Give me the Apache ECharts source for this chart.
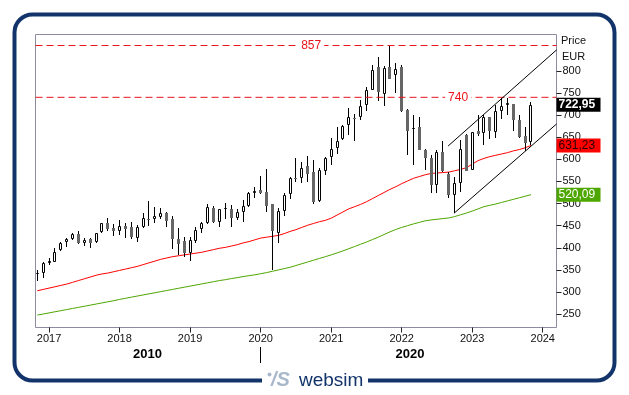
<!DOCTYPE html>
<html><head><meta charset="utf-8">
<script src="https://cdn.jsdelivr.net/npm/echarts@6/dist/echarts.min.js"></script>
<style>html,body{margin:0;padding:0;background:#fff}#c{width:629px;height:395px}</style>
</head><body><div id="c"></div>
<script>
const months = ['2016-11','2016-12',
'2017-01','2017-02','2017-03','2017-04','2017-05','2017-06','2017-07','2017-08','2017-09','2017-10','2017-11','2017-12',
'2018-01','2018-02','2018-03','2018-04','2018-05','2018-06','2018-07','2018-08','2018-09','2018-10','2018-11','2018-12',
'2019-01','2019-02','2019-03','2019-04','2019-05','2019-06','2019-07','2019-08','2019-09','2019-10','2019-11','2019-12',
'2020-01','2020-02','2020-03','2020-04','2020-05','2020-06','2020-07','2020-08','2020-09','2020-10','2020-11','2020-12',
'2021-01','2021-02','2021-03','2021-04','2021-05','2021-06','2021-07','2021-08','2021-09','2021-10','2021-11','2021-12',
'2022-01','2022-02','2022-03','2022-04','2022-05','2022-06','2022-07','2022-08','2022-09','2022-10','2022-11','2022-12',
'2023-01','2023-02','2023-03','2023-04','2023-05','2023-06','2023-07','2023-08','2023-09','2023-10','2023-11'];

const open = [343,342,365,369,394,414,419,431,412,419,413,435,456,445,437,449,448,423,446,466,464,470,479,465,421,416,388,416,442,455,491,458,487,488,468,482,494,523,530,527,499,433,483,521,558,557,585,571,506,574,606,625,645,677,694,695,723,757,808,748,808,790,808,712,668,672,622,604,543,616,567,519,546,655,576,664,659,695,662,710,722,725,689,652,640];
const close = [344,365,370,391,412,419,431,412,418,412,433,455,442,438,449,443,425,446,467,465,472,478,461,420,409,388,418,440,455,492,458,487,489,468,482,494,523,528,523,495,438,483,519,558,557,581,567,503,576,602,623,641,676,695,693,720,756,802,751,806,782,805,708,665,671,622,604,543,616,573,520,546,623,574,661,657,695,663,710,721,727,689,650,637,722.95];
const low = [325,331,361,368,392,402,418,408,405,400,410,434,438,427,430,423,421,413,445,449,455,464,448,397,384,380,371,411,434,454,455,448,464,446,463,459,493,512,522,482,350,410,473,510,549,546,549,500,504,564,587,613,643,655,641,689,708,756,731,721,781,750,707,609,588,621,576,524,524,571,512,479,526,573,575,652,632,646,648,691,701,665,648,618,632];
const high = [350,369,376,400,413,422,433,438,423,423,434,456,467,453,463,457,459,452,478,506,492,491,481,473,444,425,425,448,458,498,494,488,502,497,487,508,527,538,562,577,500,489,523,561,604,593,608,598,581,605,647,674,677,716,702,735,763,814,830,810,857,818,814,714,701,695,623,610,622,641,571,559,644,656,662,701,701,696,723,738,738,726,701,672,729];

const maRed = [303,306,309,312,315,318,322,326,330,334,338,341,343,346,349,352,355,358,362,366,370,374,377,380,382,384,386,388,390,393,396,399,401,404,407,411,414,418,422,424,426,428,432,437,441,446,451,455,459,462,467,474,481,488,493,498,504,511,518,525,532,538,545,551,557,561,565,568,569,570,571,574,577,581,589,597,602,606,609,612,615,619,622,626,631.23];
const maGreen = [248,250.5,253,255.5,258,260.5,263,265.5,268,270.5,273,275.5,278,280.5,283.5,286,288.5,291,293.5,296,298.5,301,303.5,306,308.5,311,313.5,316,318.5,321,323.5,326,328,330.5,332.5,335,337,339,341.5,344,347,350,353,356,360,364,368,372,376,380,384,388.5,393,398,403,408,413,418.5,424,430,436,441.5,446,450,454,457.5,461,463,464.5,466,467.5,470.5,474.5,478.5,483,488,493,496,499,502.5,506,509.5,513,516.5,520.09];

const yearTickIdx = [2,14,26,38,50,62,74,86];
const yearLabels = ['2017','2018','2019','2020','2021','2022','2023','2024'];
const decadeIdx = [18.75, 63.4];
const decadeLabels = ['2010','2020'];
const decadeSepIdx = [38];
const yTicks = [250,300,350,400,450,500,550,600,650,700,750,800];
const levels = [857, 740];
const levelLabelIdx = [46.6, 71.6];
const channelUpper = [[69.9, 630], [88.34, 847]];
const channelLower = [[70.95, 478.6], [88.34, 679.7]];

const X_MIN = -0.306, X_MAX = 88.34, Y_MIN = 220, Y_MAX = 881.9;
const FONT = 'Liberation Sans, Arial, sans-serif';
const NAVY = '#12346a';
const LEVEL_RED = '#e8141b';
const fmt = v => Number(v).toFixed(2).replace('.', ',');

const candleData = months.map((m, i) => [i, open[i], close[i], low[i], high[i]]);

function renderCandle(params, api) {
  const x = api.value(0), o = api.value(1), c = api.value(2), l = api.value(3), h = api.value(4);
  const po = api.coord([x, o]), pc = api.coord([x, c]), pl = api.coord([x, l]), ph = api.coord([x, h]);
  const cx = Math.round(po[0] - 0.5);
  const top = Math.round(Math.min(po[1], pc[1])), bot = Math.round(Math.max(po[1], pc[1]));
  const children = [{
    type: 'line',
    shape: { x1: cx + 0.5, y1: Math.round(ph[1]), x2: cx + 0.5, y2: Math.round(pl[1]) },
    style: { stroke: '#000', lineWidth: 1 }
  }];
  if (c >= o) {
    children.push({ type: 'rect', shape: { x: cx - 0.5, y: top + 0.5, width: 2, height: Math.max(bot - top - 1, 0) },
      style: { fill: '#fff', stroke: '#000', lineWidth: 1 } });
  } else {
    children.push({ type: 'rect', shape: { x: cx - 1, y: top, width: 3, height: Math.max(bot - top, 1) },
      style: { fill: '#666666', stroke: null } });
  }
  return { type: 'group', children };
}

const boxLabel = (bg, fg, bold) => ({
  show: true, position: 'end', distance: 0, formatter: p => fmt(p.value),
  backgroundColor: bg, color: fg, fontFamily: FONT, fontSize: 12, fontWeight: bold ? 'bold' : 'normal',
  lineHeight: 12, padding: [1, 2, 1, 2], width: 40, align: 'left'
});
const hiddenLine = { color: 'rgba(0,0,0,0)', width: 0 };

const levelSeries = levels.map((v, k) => ({
  type: 'line', name: 'level ' + v, data: [[X_MIN, v], [X_MAX, v]], showSymbol: false, silent: true, z: 5,
  lineStyle: { color: LEVEL_RED, width: 1, type: [7, 4] }
}));

const chart = echarts.init(document.getElementById('c'), null, { renderer: 'canvas' });
chart.setOption({
  animation: false,
  backgroundColor: '#ffffff',
  grid: { left: 35.5, top: 34.5, right: 72.5, bottom: 67.5, show: true, borderColor: '#8c8ca0', borderWidth: 1, backgroundColor: '#fff' },
  xAxis: [{
    type: 'value', min: X_MIN, max: X_MAX, position: 'bottom',
    axisLine: { show: false, onZero: false }, splitLine: { show: false },
    axisTick: { show: true, customValues: yearTickIdx, length: 5, lineStyle: { color: '#222' } },
    axisLabel: { customValues: yearTickIdx, margin: 6, color: '#111', fontFamily: FONT, fontSize: 11,
      formatter: v => yearLabels[yearTickIdx.indexOf(Math.round(v))] || '' }
  }, {
    type: 'value', min: X_MIN, max: X_MAX, position: 'bottom', offset: 19.5,
    axisLine: { show: false, onZero: false }, splitLine: { show: false },
    axisTick: { show: true, customValues: decadeSepIdx, length: 16, lineStyle: { color: '#000' } },
    axisLabel: { customValues: decadeIdx, margin: 1, color: '#000', fontFamily: FONT, fontSize: 13, fontWeight: 'bold',
      formatter: v => (v < decadeSepIdx[0] ? decadeLabels[0] : decadeLabels[1]) }
  }],
  yAxis: {
    type: 'value', min: Y_MIN, max: Y_MAX, position: 'right',
    axisLine: { show: false, onZero: false }, splitLine: { show: false },
    axisTick: { show: true, customValues: yTicks, length: 5, lineStyle: { color: '#222' } },
    axisLabel: { customValues: yTicks, margin: 6, color: '#111', fontFamily: FONT, fontSize: 11, formatter: v => String(v) }
  },
  series: [
    {
      type: 'line', name: 'MA green', data: maGreen.map((v, i) => [i, v]), showSymbol: false, silent: true,
      lineStyle: { color: '#4ea600', width: 1 }, z: 3,
      markLine: { silent: true, symbol: 'none', lineStyle: hiddenLine, z: 8,
        data: [{ yAxis: maGreen[maGreen.length - 1], label: boxLabel('#4ea600', '#ffffff', false) }] }
    },
    {
      type: 'line', name: 'MA red', data: maRed.map((v, i) => [i, v]), showSymbol: false, silent: true,
      lineStyle: { color: '#ff0000', width: 1 }, z: 3,
      markLine: { silent: true, symbol: 'none', lineStyle: hiddenLine, z: 8,
        data: [{ yAxis: maRed[maRed.length - 1], label: boxLabel('#ff0000', '#2a0000', false) }] }
    },
    {
      type: 'custom', name: 'Price', renderItem: renderCandle, data: candleData, z: 4,
      encode: { x: 0, y: [1, 2, 3, 4] }, clip: false
    },
    ...levelSeries,
    {
      type: 'line', name: 'channel', data: [], silent: true, z: 6, color: '#000',
      markLine: {
        silent: true, symbol: 'none', label: { show: false }, z: 6,
        lineStyle: { color: '#000', width: 1, type: 'solid' },
        data: [
          [{ coord: channelUpper[0] }, { coord: channelUpper[1] }],
          [{ coord: channelLower[0] }, { coord: channelLower[1] }]
        ]
      }
    },
    {
      type: 'line', name: 'last', data: [], silent: true, z: 7,
      markLine: { silent: true, symbol: 'none', lineStyle: hiddenLine, z: 9,
        data: [{ yAxis: close[close.length - 1], label: boxLabel('#000000', '#ffffff', true) }] },
      markPoint: {
        silent: true, symbol: 'rect', symbolSize: 1, itemStyle: { color: 'rgba(0,0,0,0)' }, z: 10,
        label: { show: true, position: 'inside', color: LEVEL_RED, fontFamily: FONT, fontSize: 12, backgroundColor: '#fff', padding: [0, 3], formatter: p => String(p.value) },
        data: levels.map((v, k) => ({ coord: [levelLabelIdx[k], v], value: v }))
      }
    }
  ],
  graphic: [
    { type: 'rect', shape: { x: 14.5, y: 14.5, width: 600, height: 366, r: 18 }, style: { fill: 'none', stroke: NAVY, lineWidth: 4 }, z: 10 },
    { type: 'text', left: 561, top: 35, style: { text: 'Price', font: '11px ' + FONT, fill: '#111' }, z: 10 },
    { type: 'text', left: 562, top: 51, style: { text: 'EUR', font: '11px ' + FONT, fill: '#111' }, z: 10 },
    { type: 'rect', shape: { x: 262, y: 370, width: 106, height: 22 }, style: { fill: '#fff' }, z: 11 },
    { type: 'circle', shape: { cx: 269.5, cy: 374.5, r: 2 }, style: { fill: '#a9b7cb' }, z: 12 },
    { type: 'text', x: 271, y: 380.5, style: { text: '/S', font: 'italic bold 20px ' + FONT, fill: '#a9b7cb', textVerticalAlign: 'middle' }, z: 12 },
    { type: 'text', x: 299, y: 381, style: { text: 'websim', font: '19px ' + FONT, fill: NAVY, textVerticalAlign: 'middle' }, z: 12 }
  ]
});
</script>
</body></html>
